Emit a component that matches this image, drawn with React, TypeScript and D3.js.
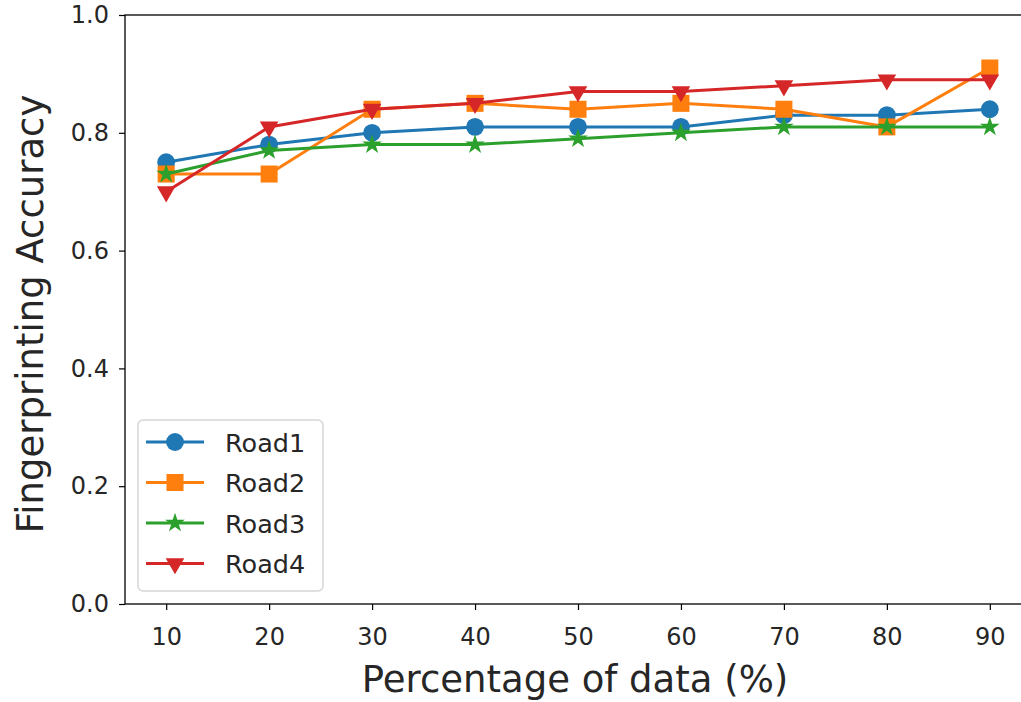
import React, { useEffect, useRef } from "react";
import * as d3 from "d3";

const percentages = [10, 20, 30, 40, 50, 60, 70, 80, 90];
const road1 = [0.75, 0.78, 0.8, 0.81, 0.81, 0.81, 0.83, 0.83, 0.84];
const road2 = [0.73, 0.73, 0.84, 0.85, 0.84, 0.85, 0.84, 0.81, 0.91];
const road3 = [0.73, 0.77, 0.78, 0.78, 0.79, 0.8, 0.81, 0.81, 0.81];
const road4 = [0.7, 0.81, 0.84, 0.85, 0.87, 0.87, 0.88, 0.89, 0.89];
const seriesNames = ["Road1", "Road2", "Road3", "Road4"];
const yTicks = [0, 0.2, 0.4, 0.6, 0.8, 1.0];

const colors = ["#1f77b4", "#ff7f0e", "#2ca02c", "#d62728"];
const symbols = [d3.symbolCircle, d3.symbolSquare, d3.symbolStar, d3.symbolTriangle];
const symbolSizes = [250, 290, 120, 150];

export default function App() {
  const ref = useRef<SVGSVGElement>(null);

  useEffect(() => {
    document.body.style.margin = "0";
    const svg = d3.select(ref.current);
    svg.selectAll("*").remove();

    const left = 125, right = 1031, top = 15, bottom = 604;
    const font = "DejaVu Sans, sans-serif";
    const ink = "#262626";

    const x = d3.scaleLinear().domain([6, 94]).range([left, right]);
    const y = d3.scaleLinear().domain([0, 1]).range([bottom, top]);

    const g = svg.append("g");

    // spines
    g.append("rect")
      .attr("x", left).attr("y", top)
      .attr("width", right - left).attr("height", bottom - top)
      .attr("fill", "none").attr("stroke", "#000").attr("stroke-width", 1.3);

    const xAxis = d3.axisBottom(x).tickValues(percentages).tickSize(6).tickFormat(d3.format("d"));
    const gx = g.append("g").attr("transform", `translate(0,${bottom})`).call(xAxis);
    gx.select(".domain").remove();
    gx.selectAll("text")
      .attr("y", 41).attr("dy", null)
      .attr("font-size", 24).attr("font-family", font).attr("fill", ink);
    gx.selectAll("line").attr("stroke-width", 1.2);

    const yAxis = d3.axisLeft(y).tickValues(yTicks).tickSize(6).tickFormat(d3.format(".1f"));
    const gy = g.append("g").attr("transform", `translate(${left},0)`).call(yAxis);
    gy.select(".domain").remove();
    gy.selectAll("text")
      .attr("x", -16)
      .attr("font-size", 24).attr("font-family", font).attr("fill", ink);
    gy.selectAll("line").attr("stroke-width", 1.2);

    g.append("text")
      .attr("x", 575).attr("y", 692)
      .attr("text-anchor", "middle").attr("font-size", 37).attr("font-family", font).attr("fill", ink)
      .text("Percentage of data (%)");

    g.append("text")
      .attr("transform", `translate(43,314) rotate(-90)`)
      .attr("text-anchor", "middle").attr("font-size", 37).attr("font-family", font).attr("fill", ink)
      .text("Fingerprinting Accuracy");

    const allSeries = [road1, road2, road3, road4];
    const line = d3.line<number>().x((_, i) => x(percentages[i])).y(d => y(d));

    allSeries.forEach((vals, si) => {
      const sg = g.append("g");
      sg.append("path")
        .attr("d", line(vals))
        .attr("fill", "none").attr("stroke", colors[si]).attr("stroke-width", 3)
        .attr("stroke-linejoin", "round");
      const sym = d3.symbol().type(symbols[si]).size(symbolSizes[si]);
      sg.selectAll("path.m")
        .data(vals)
        .join("path")
        .attr("class", "m")
        .attr("d", sym)
        .attr("fill", colors[si])
        .attr("transform", (d, i) => `translate(${x(percentages[i])},${y(d)})${si === 3 ? " rotate(180)" : ""}`);
    });

    // legend
    const lg = g.append("g");
    lg.append("rect")
      .attr("x", 138).attr("y", 420).attr("width", 185).attr("height", 171)
      .attr("rx", 5).attr("fill", "#fff").attr("fill-opacity", 0.8)
      .attr("stroke", "#d6d6d6").attr("stroke-width", 1.5);
    seriesNames.forEach((name, i) => {
      const ry = 442 + i * 40.5;
      lg.append("line")
        .attr("x1", 146).attr("x2", 204).attr("y1", ry).attr("y2", ry)
        .attr("stroke", colors[i]).attr("stroke-width", 3);
      lg.append("path")
        .attr("d", d3.symbol().type(symbols[i]).size(symbolSizes[i])())
        .attr("fill", colors[i])
        .attr("transform", `translate(175,${ry})${i === 3 ? " rotate(180)" : ""}`);
      lg.append("text")
        .attr("x", 225).attr("y", ry + 9.5)
        .attr("font-size", 25.5).attr("font-family", font).attr("fill", ink)
        .text(name);
    });
  }, []);

  return <svg ref={ref} width={1021} height={702} style={{ display: "block" }} />;
}
